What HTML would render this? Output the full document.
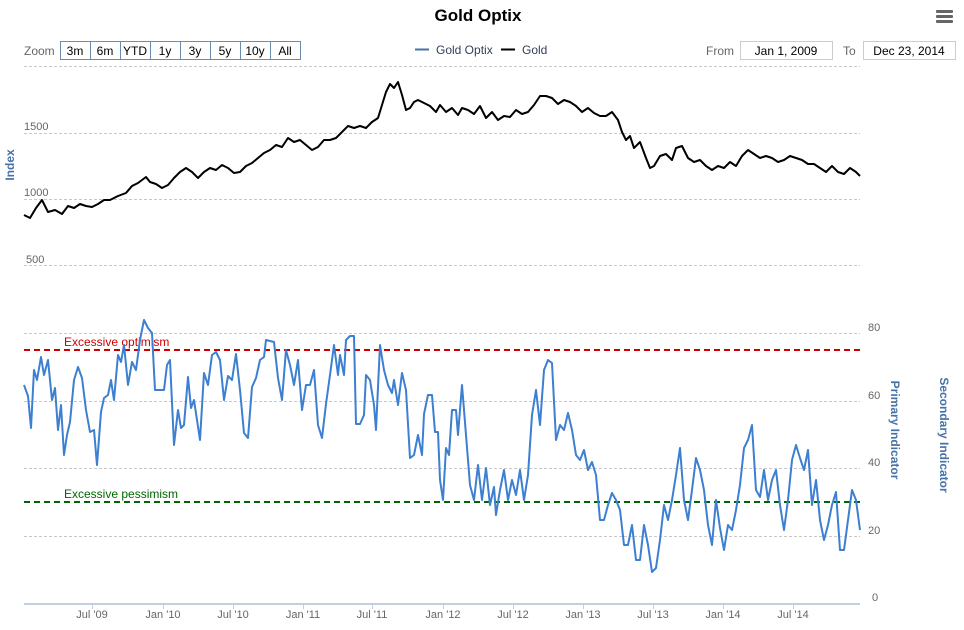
<!DOCTYPE html>
<html><head><meta charset="utf-8"><style>
body{margin:0;background:#fff;font-family:"Liberation Sans",Arial,sans-serif}
</style></head><body>
<svg width="964" height="625" xmlns="http://www.w3.org/2000/svg" font-family="Liberation Sans, Arial, sans-serif">
<rect width="964" height="625" fill="#fff"/>
<text x="478" y="21" text-anchor="middle" font-size="17" font-weight="bold" fill="#000">Gold Optix</text>
<g fill="#666"><rect x="936" y="10" width="17" height="3" rx="1"/><rect x="936" y="15" width="17" height="3" rx="1"/><rect x="936" y="20" width="17" height="3" rx="1"/></g>
<text x="24" y="55" font-size="12" fill="#666">Zoom</text>
<g font-size="12" fill="#000" text-anchor="middle">
<rect x="60.5" y="41.5" width="240" height="18" fill="#fff" stroke="#6b8cb0"/>
<line x1="90.5" y1="41" x2="90.5" y2="60" stroke="#6b8cb0"/><line x1="120.5" y1="41" x2="120.5" y2="60" stroke="#6b8cb0"/><line x1="150.5" y1="41" x2="150.5" y2="60" stroke="#6b8cb0"/><line x1="180.5" y1="41" x2="180.5" y2="60" stroke="#6b8cb0"/><line x1="210.5" y1="41" x2="210.5" y2="60" stroke="#6b8cb0"/><line x1="240.5" y1="41" x2="240.5" y2="60" stroke="#6b8cb0"/><line x1="270.5" y1="41" x2="270.5" y2="60" stroke="#6b8cb0"/>
<text x="75" y="55">3m</text><text x="105" y="55">6m</text><text x="135" y="55">YTD</text><text x="165" y="55">1y</text><text x="195" y="55">3y</text><text x="225" y="55">5y</text><text x="255" y="55">10y</text><text x="285" y="55">All</text>
</g>
<line x1="415" y1="49.5" x2="429" y2="49.5" stroke="#4572a7" stroke-width="2"/>
<text x="436" y="54" font-size="12" fill="#333e5a">Gold Optix</text>
<line x1="501" y1="49.5" x2="515" y2="49.5" stroke="#000" stroke-width="2"/>
<text x="522" y="54" font-size="12" fill="#333e5a">Gold</text>
<text x="706" y="55" font-size="12" fill="#666">From</text>
<rect x="740.5" y="41.5" width="92" height="18" fill="#fff" stroke="#ccc"/>
<text x="786" y="55" font-size="12" text-anchor="middle">Jan 1, 2009</text>
<text x="843" y="55" font-size="12" fill="#666">To</text>
<rect x="863.5" y="41.5" width="92" height="18" fill="#fff" stroke="#ccc"/>
<text x="909" y="55" font-size="12" text-anchor="middle">Dec 23, 2014</text>
<g stroke="#c8c8c8" stroke-dasharray="3,2" stroke-width="1">
<line x1="24" y1="66.5" x2="860" y2="66.5"/><line x1="24" y1="133.5" x2="860" y2="133.5"/><line x1="24" y1="199.5" x2="860" y2="199.5"/><line x1="24" y1="265.5" x2="860" y2="265.5"/>
<line x1="24" y1="333.5" x2="860" y2="333.5"/><line x1="24" y1="401.5" x2="860" y2="401.5"/><line x1="24" y1="468.5" x2="860" y2="468.5"/><line x1="24" y1="536.5" x2="860" y2="536.5"/>
</g>
<line x1="24" y1="604" x2="860" y2="604" stroke="#c0d0e0" stroke-width="2"/>
<g stroke="#c0d0e0"><line x1="92.5" y1="604" x2="92.5" y2="609"/><line x1="163.5" y1="604" x2="163.5" y2="609"/><line x1="233.5" y1="604" x2="233.5" y2="609"/><line x1="303.5" y1="604" x2="303.5" y2="609"/><line x1="372.5" y1="604" x2="372.5" y2="609"/><line x1="443.5" y1="604" x2="443.5" y2="609"/><line x1="513.5" y1="604" x2="513.5" y2="609"/><line x1="583.5" y1="604" x2="583.5" y2="609"/><line x1="653.5" y1="604" x2="653.5" y2="609"/><line x1="723.5" y1="604" x2="723.5" y2="609"/><line x1="793.5" y1="604" x2="793.5" y2="609"/></g>
<g font-size="11" fill="#666" text-anchor="middle"><text x="92" y="618">Jul '09</text><text x="163" y="618">Jan '10</text><text x="233" y="618">Jul '10</text><text x="303" y="618">Jan '11</text><text x="372" y="618">Jul '11</text><text x="443" y="618">Jan '12</text><text x="513" y="618">Jul '12</text><text x="583" y="618">Jan '13</text><text x="653" y="618">Jul '13</text><text x="723" y="618">Jan '14</text><text x="793" y="618">Jul '14</text></g>
<g font-size="11" fill="#666"><text x="24" y="130">1500</text><text x="24" y="196">1000</text><text x="26" y="263">500</text>
<text x="868" y="331">80</text><text x="868" y="399">60</text><text x="868" y="466">40</text><text x="868" y="534">20</text><text x="872" y="601">0</text></g>
<text transform="translate(14,165) rotate(-90)" font-size="12" font-weight="bold" fill="#4572a7" text-anchor="middle">Index</text>
<text transform="translate(891,430) rotate(90)" font-size="12" font-weight="bold" fill="#4572a7" text-anchor="middle">Primary Indicator</text>
<text transform="translate(940,435) rotate(90)" font-size="12" font-weight="bold" fill="#4572a7" text-anchor="middle">Secondary Indicator</text>
<line x1="24" y1="350" x2="860" y2="350" stroke="#c00" stroke-width="2" stroke-dasharray="6,4"/>
<text x="64" y="346" font-size="12" fill="#c00">Excessive optimism</text>
<line x1="24" y1="502" x2="860" y2="502" stroke="#060" stroke-width="2" stroke-dasharray="6,4"/>
<text x="64" y="498" font-size="12" fill="#060">Excessive pessimism</text>
<polyline fill="none" stroke="#000" stroke-width="2" stroke-linejoin="round" points="24,215 30,218 36,208 42,200 48,212 55,210 62,214 68,206 74,208 80,204 86,206 92,207 98,204 104,200 110,200 118,196 126,193 132,186 138,183 146,177 150,182 156,184 162,188 168,185 174,178 180,172 186,168 192,172 198,178 204,172 210,168 216,170 222,165 228,168 234,173 240,172 246,166 252,163 258,158 264,153 270,150 276,145 282,147 288,138 294,142 300,140 306,145 312,150 318,147 324,140 330,140 336,138 342,132 348,126 354,128 360,126 366,128 372,122 378,118 382,105 386,92 390,84 394,88 398,82 402,95 406,110 410,108 414,102 418,100 424,103 430,106 436,112 440,105 446,112 452,108 458,115 462,108 468,110 474,114 480,106 486,118 492,112 498,120 504,116 510,117 516,110 522,114 528,112 534,105 540,96 546,96 552,98 558,104 564,100 570,102 576,106 582,112 588,108 594,113 600,116 606,116 612,112 618,120 622,132 626,140 630,136 634,148 640,142 646,158 650,168 654,166 660,156 666,154 672,160 676,148 682,146 688,158 694,162 700,160 706,166 712,170 718,166 724,168 730,162 736,166 742,156 748,150 754,154 760,158 766,156 772,158 778,162 784,160 790,156 796,158 802,160 808,164 814,164 820,168 826,172 832,166 838,172 844,174 850,168 856,172 860,176"/>
<polyline fill="none" stroke="#3d7fd0" stroke-width="2" stroke-linejoin="round" points="24,385 28,396 31,428 34,370 37,380 41,357 44,375 48,360 52,400 55,388 58,430 61,405 64,455 67,435 70,422 74,380 78,367 82,378 86,410 90,432 94,430 97,465 101,412 104,398 108,395 111,380 114,400 118,355 121,362 124,345 128,385 132,362 136,370 140,340 144,320 148,328 152,333 155,390 160,390 164,390 167,365 170,360 174,445 178,410 181,428 184,425 188,377 191,408 194,400 197,420 200,440 204,373 208,385 212,355 216,352 220,360 224,400 228,376 232,380 236,354 240,390 244,433 248,438 252,387 256,378 260,360 264,357 266,340 274,342 278,378 282,400 286,350 290,365 294,385 298,360 302,410 306,385 310,385 314,370 318,425 322,438 326,404 330,375 334,345 338,375 340,355 344,375 346,340 350,336 354,336 356,424 360,424 364,415 366,375 370,380 374,405 376,430 380,345 384,370 388,385 392,393 394,380 398,405 402,373 406,390 410,458 414,455 418,435 422,455 424,414 428,395 432,395 435,432 438,432 440,480 443,500 446,448 449,455 452,410 456,410 458,435 462,385 466,435 470,485 474,500 478,465 482,500 486,468 490,505 494,487 496,515 500,490 504,470 508,500 512,480 516,495 520,470 524,500 528,475 532,415 536,390 540,425 544,370 548,360 552,363 556,440 560,425 564,430 568,413 572,430 576,455 580,460 584,450 588,470 592,462 596,475 600,520 604,520 608,505 612,493 616,500 620,510 624,545 628,545 632,525 636,560 640,560 644,525 648,545 652,572 656,568 660,540 664,505 668,520 672,500 676,475 680,448 684,500 688,520 692,490 696,458 700,470 704,490 708,525 712,545 716,500 720,528 724,550 728,525 732,530 736,510 740,485 744,448 748,440 752,425 756,490 760,497 764,470 768,500 772,480 776,470 780,505 784,530 788,500 792,460 796,445 800,458 804,470 808,450 812,505 816,480 820,520 824,540 828,525 832,505 836,492 840,550 844,550 848,520 852,490 856,500 860,530"/>
</svg>
</body></html>
